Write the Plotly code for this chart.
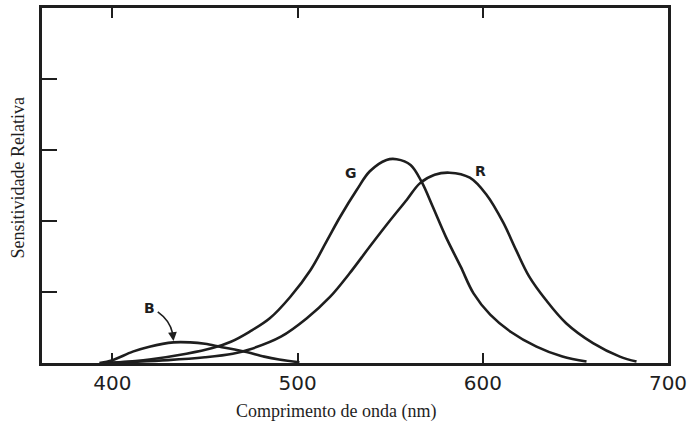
import plotly.graph_objects as go

# wavelength (nm) and relative sensitivity
g_wl = [397, 400, 420, 440, 454, 464, 474, 485, 496, 507, 516, 523, 532, 539, 548, 553.5,
        561, 567, 573, 580, 588, 595, 604, 615, 629, 643, 656]
g_val = [0.0, 0.005, 0.05, 0.13, 0.21, 0.30, 0.44, 0.63, 0.93, 1.31, 1.73, 2.06, 2.44, 2.70,
         2.86, 2.87, 2.79, 2.55, 2.20, 1.78, 1.36, 0.98, 0.68, 0.44, 0.23, 0.09, 0.02]

r_wl = [397, 400, 430, 450, 465, 474, 491, 505, 517.5, 528, 539, 550, 559, 566, 574, 582,
        593, 602, 611, 618, 625, 634, 645, 659.5, 674, 683]
r_val = [0.0, 0.003, 0.04, 0.08, 0.13, 0.19, 0.37, 0.63, 0.93, 1.26, 1.64, 2.01, 2.30,
         2.53, 2.65, 2.68, 2.61, 2.37, 1.98, 1.59, 1.22, 0.89, 0.56, 0.28, 0.09, 0.02]

b_wl = [393, 400, 411, 420, 433, 442, 450, 458, 466, 473, 482, 490, 501]
b_val = [0.0, 0.04, 0.16, 0.23, 0.29, 0.29, 0.27, 0.23, 0.19, 0.15, 0.09, 0.05, 0.01]

x_ticks = [400, 500, 600, 700]
y_ticks = [1, 2, 3, 4]

line_color = '#1e1e1e'

fig = go.Figure()
for wl, val, name in [(b_wl, b_val, 'B'), (g_wl, g_val, 'G'), (r_wl, r_val, 'R')]:
    fig.add_trace(go.Scatter(
        x=wl, y=val, name=name, mode='lines',
        line=dict(color=line_color, width=2.6, shape='spline', smoothing=1.0),
        showlegend=False
    ))

# curve labels
label_font = dict(family='DejaVu Sans', size=14, color=line_color)
fig.add_annotation(x=529, y=2.68, text='<b>G</b>', showarrow=False, font=label_font)
fig.add_annotation(x=599, y=2.7, text='<b>R</b>', showarrow=False, font=label_font)
fig.add_annotation(x=420, y=0.78, text='<b>B</b>', showarrow=False, font=label_font)
# arrow from B label to the blue curve
fig.add_shape(type='path', path='M 424.5,0.72 Q 431,0.6 432.5,0.42',
              line=dict(color=line_color, width=1.6))
fig.add_annotation(x=433, y=0.31, ax=432.5, ay=0.42, axref='x', ayref='y',
                   xref='x', yref='y', text='', showarrow=True,
                   arrowhead=2, arrowsize=1.1, arrowwidth=1.6, arrowcolor=line_color)

# axis titles as annotations so they sit where the original has them
title_font = dict(family='Liberation Serif', color=line_color)
fig.add_annotation(x=0.469, y=-0.138, xref='paper', yref='paper',
                   text='Comprimento de onda (nm)', showarrow=False,
                   xanchor='center', yanchor='middle', font=dict(size=18, **title_font))
fig.add_annotation(x=-0.0383, y=0.52, xref='paper', yref='paper',
                   text='Sensitividade Relativa', showarrow=False, textangle=-90,
                   xanchor='center', yanchor='middle', font=dict(size=18, **title_font))

fig.update_layout(
    width=691, height=427,
    margin=dict(l=42, r=23, t=8, b=64),
    plot_bgcolor='white',
    paper_bgcolor='white',
)

fig.update_xaxes(
    range=[362, 700],
    tickvals=x_ticks,
    ticks='inside', ticklen=10, tickwidth=1.5, tickcolor=line_color,
    showline=True, linecolor=line_color, linewidth=2.5, mirror='ticks',
    showgrid=False, zeroline=False, automargin=False,
    tickfont=dict(family='DejaVu Sans', size=20, color=line_color),
)
fig.update_yaxes(
    range=[0, 5],
    tickvals=y_ticks, showticklabels=False,
    ticks='inside', ticklen=15, tickwidth=1.5, tickcolor=line_color,
    showline=True, linecolor=line_color, linewidth=2.5, mirror=True,
    showgrid=False, zeroline=False, automargin=False,
)

# drop the default 8px body margin so the figure fills the window exactly
fig.write_html("out.html", config={'displayModeBar': False},
               post_script="document.body.style.margin='0px';")
